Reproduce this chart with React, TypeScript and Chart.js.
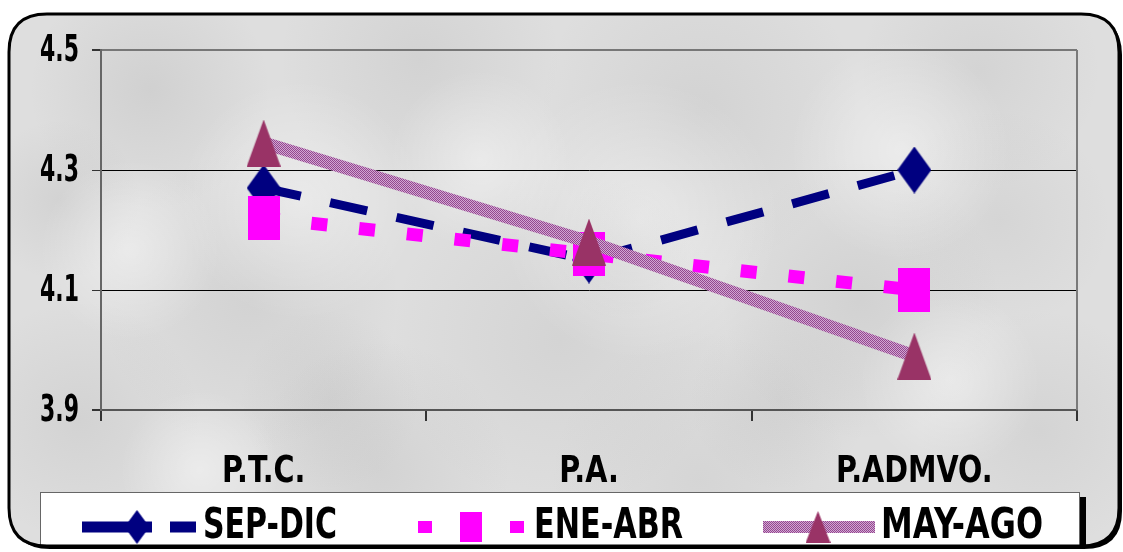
import React, { useEffect, useRef } from "react";
import { Chart, registerables } from "chart.js";
Chart.register(...registerables);

const categories = ["P.T.C.", "P.A.", "P.ADMVO."];
const sepDic = [4.27, 4.15, 4.3];
const eneAbr = [4.22, 4.16, 4.1];
const mayAgo = [4.345, 4.18, 3.99];
const seriesNames = ["SEP-DIC", "ENE-ABR", "MAY-AGO"];
const yTicks = [3.9, 4.1, 4.3, 4.5];

const FONT = '"Liberation Sans Narrow", "Arial Narrow", "DejaVu Sans Condensed", "Liberation Sans", sans-serif';

function marker(shape: string, w: number, h: number, color: string) {
  const c = document.createElement("canvas");
  c.width = w;
  c.height = h;
  const ctx = c.getContext("2d")!;
  ctx.fillStyle = color;
  ctx.beginPath();
  if (shape === "diamond") {
    ctx.moveTo(w / 2, 0);
    ctx.lineTo(w, h / 2);
    ctx.lineTo(w / 2, h);
    ctx.lineTo(0, h / 2);
  } else if (shape === "square") {
    ctx.rect(0, 0, w, h);
  } else {
    ctx.moveTo(w / 2, 0);
    ctx.lineTo(w, h);
    ctx.lineTo(0, h);
  }
  ctx.closePath();
  ctx.fill();
  return c;
}

function ditherPattern(a: string, b: string) {
  const c = document.createElement("canvas");
  c.width = 2;
  c.height = 2;
  const ctx = c.getContext("2d")!;
  ctx.fillStyle = a;
  ctx.fillRect(0, 0, 2, 2);
  ctx.fillStyle = b;
  ctx.fillRect(0, 0, 1, 1);
  ctx.fillRect(1, 1, 1, 1);
  return ctx.createPattern(c, "repeat")!;
}

function rr(ctx: CanvasRenderingContext2D, x: number, y: number, w: number, h: number, r: number) {
  ctx.beginPath();
  ctx.moveTo(x + r, y);
  ctx.lineTo(x + w - r, y);
  ctx.quadraticCurveTo(x + w, y, x + w, y + r);
  ctx.lineTo(x + w, y + h - r);
  ctx.quadraticCurveTo(x + w, y + h, x + w - r, y + h);
  ctx.lineTo(x + r, y + h);
  ctx.quadraticCurveTo(x, y + h, x, y + h - r);
  ctx.lineTo(x, y + r);
  ctx.quadraticCurveTo(x, y, x + r, y);
  ctx.closePath();
}

function squeezedText(ctx: CanvasRenderingContext2D, text: string, x: number, y: number, sx: number, align: CanvasTextAlign) {
  ctx.save();
  ctx.translate(x, y);
  ctx.scale(sx, 1);
  ctx.textAlign = align;
  ctx.fillText(text, 0, 0);
  ctx.restore();
}

const FX = 9, FY = 14, FW = 1110, FH = 532, FR = 38;

const framePlugin = {
  id: "frame",
  beforeDraw(chart: any) {
    const ctx: CanvasRenderingContext2D = chart.ctx;
    ctx.save();
    ctx.fillStyle = "#ffffff";
    ctx.fillRect(0, 0, chart.width, chart.height);
    rr(ctx, FX + 3, FY + 3, FW, FH, FR);
    ctx.fillStyle = "#000";
    ctx.fill();
    rr(ctx, FX, FY, FW, FH, FR);
    ctx.fillStyle = "#dedede";
    ctx.fill();
    ctx.clip();
    const blots = [
      [150, 90, 120, 0.12], [420, 60, 140, 0.10], [700, 110, 160, 0.10], [980, 70, 120, 0.09],
      [250, 300, 150, 0.10], [560, 340, 170, 0.09], [860, 300, 140, 0.11], [80, 420, 120, 0.10],
      [380, 470, 130, 0.10], [700, 480, 150, 0.08], [1040, 430, 120, 0.09], [1000, 220, 110, 0.08],
      [60, 200, 80, 0.10], [330, 400, 90, 0.09], [620, 250, 70, 0.08], [780, 400, 90, 0.09],
    ];
    blots.forEach(([x, y, r, a]) => {
      const g = ctx.createRadialGradient(x, y, 0, x, y, r);
      g.addColorStop(0, `rgba(110,110,110,${a})`);
      g.addColorStop(1, "rgba(110,110,110,0)");
      ctx.fillStyle = g;
      ctx.fillRect(x - r, y - r, 2 * r, 2 * r);
    });
    const lights = [[300, 200, 120], [640, 220, 140], [130, 250, 90], [900, 150, 110], [480, 160, 90], [950, 380, 90], [200, 470, 80]];
    lights.forEach(([x, y, r]) => {
      const g = ctx.createRadialGradient(x, y, 0, x, y, r);
      g.addColorStop(0, "rgba(255,255,255,0.4)");
      g.addColorStop(1, "rgba(255,255,255,0)");
      ctx.fillStyle = g;
      ctx.fillRect(x - r, y - r, 2 * r, 2 * r);
    });
    ctx.restore();
  },
  beforeDatasetsDraw(chart: any) {
    const ctx: CanvasRenderingContext2D = chart.ctx;
    const a = chart.chartArea;
    ctx.save();
    ctx.strokeStyle = "#7a7a7a";
    ctx.lineWidth = 2;
    ctx.beginPath();
    ctx.moveTo(a.right, a.top);
    ctx.lineTo(a.right, a.bottom);
    ctx.stroke();
    // axis labels (drawn through the scales, horizontally condensed)
    const ys = chart.scales.y;
    const xs = chart.scales.x;
    ctx.fillStyle = "#000";
    ctx.textBaseline = "middle";
    ctx.font = `bold 37px ${FONT}`;
    yTicks.forEach((v) => {
      squeezedText(ctx, v.toFixed(1), 79, ys.getPixelForValue(v) + 1, 0.66, "right");
    });
    ctx.textBaseline = "alphabetic";
    categories.forEach((c, i) => {
      squeezedText(ctx, c, xs.getPixelForValue(i), 482, 0.86, "center");
    });
    ctx.restore();
  },
  afterDraw(chart: any) {
    const ctx: CanvasRenderingContext2D = chart.ctx;
    ctx.save();
    rr(ctx, FX, FY, FW, FH, FR);
    ctx.clip();
    // legend box
    ctx.fillStyle = "#000";
    ctx.fillRect(1080, 497, 6, 60);
    ctx.fillStyle = "#fff";
    ctx.fillRect(40, 492, 1040, 60);
    ctx.strokeStyle = "#666";
    ctx.lineWidth = 1;
    ctx.strokeRect(40.5, 492.5, 1039, 60);
    const items = [
      { sx: 82, ex: 196, mx: 137, tx: 203, tw: 134, dash: [70, 18, 30, 10], lw: 11, mk: [25, 34] },
      { sx: 418, ex: 527, mx: 471, tx: 534, tw: 149, dash: [14, 32], lw: 12, mk: [22, 30] },
      { sx: 763, ex: 875, mx: 818, tx: 881, tw: 162, dash: [], lw: 12, mk: [25, 32] },
    ];
    const ly = 527;
    chart.data.datasets.forEach((ds: any, i: number) => {
      const it = items[i];
      ctx.save();
      ctx.strokeStyle = ds.borderColor;
      ctx.lineWidth = it.lw;
      ctx.lineCap = "butt";
      ctx.setLineDash(it.dash);
      ctx.beginPath();
      ctx.moveTo(it.sx, ly);
      ctx.lineTo(it.ex, ly);
      ctx.stroke();
      ctx.restore();
      const m = marker(ds.shape, it.mk[0], it.mk[1], ds.markerColor);
      ctx.drawImage(m, it.mx - it.mk[0] / 2, ly - it.mk[1] / 2);
      ctx.fillStyle = "#000";
      ctx.font = `bold 43px ${FONT}`;
      ctx.textBaseline = "alphabetic";
      ctx.textAlign = "left";
      ctx.fillText(ds.label, it.tx, 538, it.tw);
    });
    ctx.restore();
    // frame stroke
    ctx.save();
    rr(ctx, FX, FY, FW, FH, FR);
    ctx.strokeStyle = "#000";
    ctx.lineWidth = 3;
    ctx.stroke();
    ctx.restore();
  },
};

export default function App() {
  const ref = useRef<HTMLCanvasElement>(null);
  useEffect(() => {
    const navy = "#000080";
    const magenta = "#ff00ff";
    const plum = "#993366";
    const mayLine = ditherPattern("#d2a6d2", "#93488f");
    const chart = new Chart(ref.current!, {
      type: "line",
      data: {
        labels: categories,
        datasets: [
          {
            label: seriesNames[0],
            data: sepDic,
            borderColor: navy,
            borderWidth: 9,
            borderDash: [38, 30],
            borderCapStyle: "butt",
            pointStyle: marker("diamond", 34, 47, navy),
            pointRadius: 20,
            tension: 0,
            order: 3,
            shape: "diamond",
            markerColor: navy,
          } as any,
          {
            label: seriesNames[1],
            data: eneAbr,
            borderColor: magenta,
            borderWidth: 13,
            borderDash: [16, 32],
            borderCapStyle: "butt",
            pointStyle: marker("square", 32, 44, magenta),
            pointRadius: 20,
            tension: 0,
            order: 2,
            shape: "square",
            markerColor: magenta,
          } as any,
          {
            label: seriesNames[2],
            data: mayAgo,
            borderColor: mayLine,
            borderWidth: 13,
            borderCapStyle: "butt",
            pointStyle: marker("triangle", 34, 47, plum),
            pointRadius: 20,
            tension: 0,
            order: 1,
            shape: "triangle",
            markerColor: plum,
          } as any,
        ],
      },
      options: {
        responsive: false,
        animation: false,
        events: [],
        layout: { padding: { top: 50, right: 46, left: 0, bottom: 0 }, autoPadding: false },
        plugins: { legend: { display: false }, tooltip: { enabled: false }, title: { display: false } },
        scales: {
          x: {
            offset: true,
            grid: { offset: true, drawOnChartArea: false, tickLength: 11, tickColor: "#333", lineWidth: 2 },
            border: { display: true, color: "#555", width: 2 },
            ticks: { color: "rgba(0,0,0,0)", font: { family: FONT, size: 36, weight: "bold" }, padding: 24, maxRotation: 0 },
            afterFit: (s: any) => {
              s.height = 142;
            },
          },
          y: {
            min: 3.9,
            max: 4.5,
            afterBuildTicks: (s: any) => {
              s.ticks = yTicks.map((v) => ({ value: v }));
            },
            grid: {
              color: (c: any) => (c.tick && (c.tick.value === 4.3 || c.tick.value === 4.1) ? "#000" : "#777"),
              lineWidth: (c: any) => (c.tick && (c.tick.value === 4.3 || c.tick.value === 4.1) ? 1 : 2),
              tickLength: 9,
              tickColor: "#333",
            },
            border: { display: true, color: "#666", width: 2 },
            ticks: {
              color: "rgba(0,0,0,0)",
              font: { family: FONT, size: 36, weight: "bold" },
              padding: 13,
              callback: (v: any) => Number(v).toFixed(1),
            },
            afterFit: (s: any) => {
              s.width = 101;
            },
          },
        },
      } as any,
      plugins: [framePlugin],
    });
    return () => chart.destroy();
  }, []);
  return (
    <div style={{ position: "absolute", left: 0, top: 0, width: 1123, height: 552 }}>
      <canvas ref={ref} width={1123} height={552} style={{ display: "block" }} />
    </div>
  );
}
